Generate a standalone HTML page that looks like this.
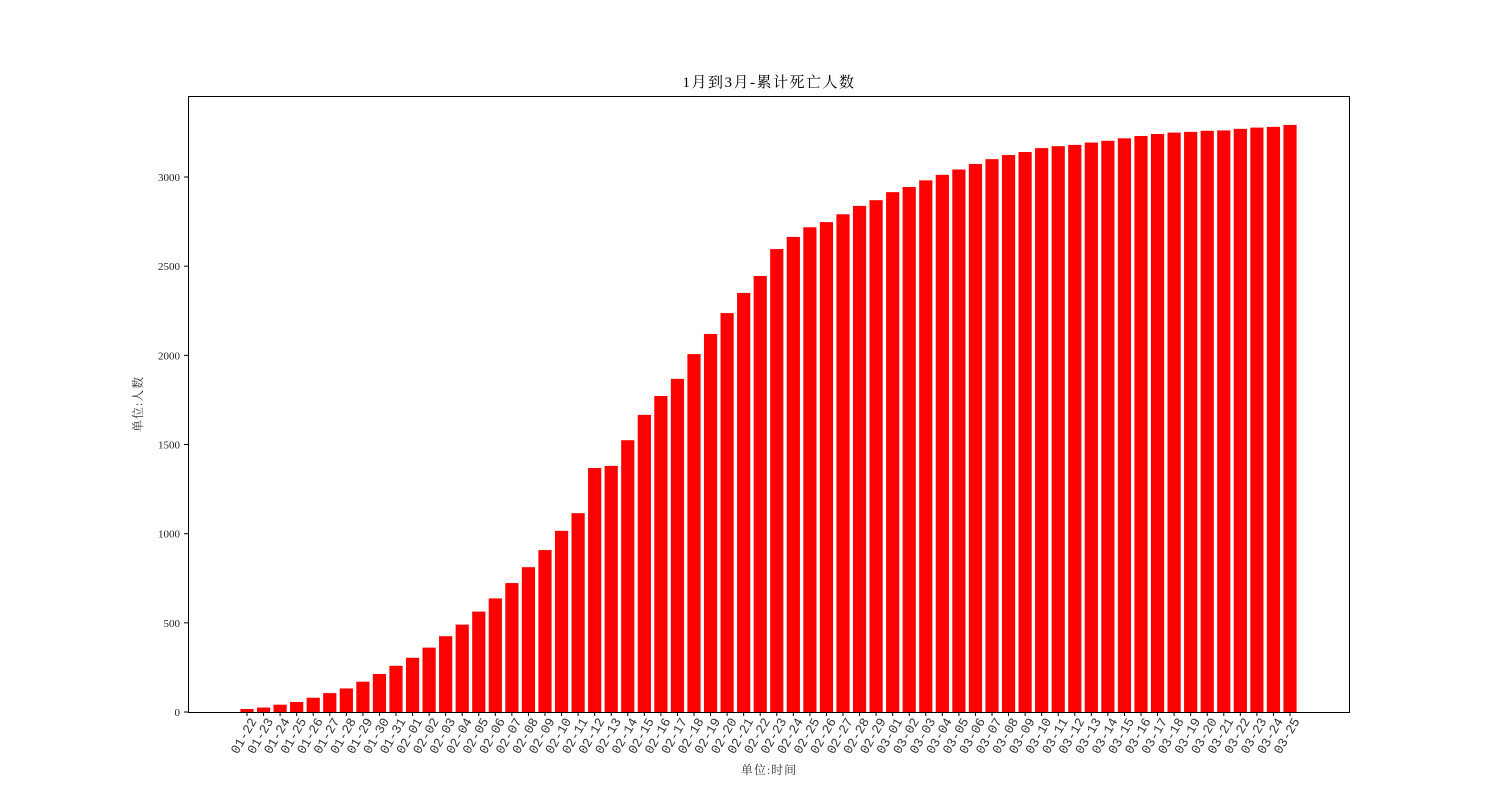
<!DOCTYPE html>
<html><head><meta charset="utf-8"><style>
html,body{margin:0;padding:0;background:#fff;}
svg{display:block;font-family:"Liberation Serif","Noto Serif CJK SC",serif;}
.tk{font-family:"Liberation Mono","Noto Sans CJK SC",monospace;}
</style></head><body>
<svg id="chart" width="1500" height="800">
<text x="769" y="87" font-size="15" letter-spacing="1.5" text-anchor="middle">1月到3月-累计死亡人数</text>
<text x="769" y="774" font-size="12" letter-spacing="1" text-anchor="middle" fill="#333">单位:时间</text>
<text transform="translate(142,404) rotate(-90)" font-size="12" letter-spacing="1" text-anchor="middle" fill="#333">单位:人数</text>
<g id="bars"></g>
<g id="xt"></g>
<g id="yt"></g>
<rect x="188.5" y="96.5" width="1161" height="616" fill="none" stroke="#000" stroke-width="1"/>
</svg>
<script>
const categories=["01-22","01-23","01-24","01-25","01-26","01-27","01-28","01-29","01-30","01-31","02-01","02-02","02-03","02-04","02-05","02-06","02-07","02-08","02-09","02-10","02-11","02-12","02-13","02-14","02-15","02-16","02-17","02-18","02-19","02-20","02-21","02-22","02-23","02-24","02-25","02-26","02-27","02-28","02-29","03-01","03-02","03-03","03-04","03-05","03-06","03-07","03-08","03-09","03-10","03-11","03-12","03-13","03-14","03-15","03-16","03-17","03-18","03-19","03-20","03-21","03-22","03-23","03-24","03-25"];
const deaths=[17,25,41,56,80,106,132,170,213,259,304,361,425,490,563,637,723,812,908,1016,1115,1368,1380,1524,1666,1772,1868,2007,2120,2237,2350,2445,2596,2664,2718,2747,2791,2838,2870,2915,2944,2981,3012,3042,3073,3100,3123,3140,3162,3173,3180,3193,3203,3217,3230,3241,3249,3253,3259,3261,3270,3277,3281,3292];
const yTicks=[0,500,1000,1500,2000,2500,3000];
const NS="http://www.w3.org/2000/svg";
const y=v=>712-v*535/3000;
const x=i=>247+i*(1290-247)/(categories.length-1);
const bw=13.2;
const bars=document.getElementById('bars'),xt=document.getElementById('xt'),yt=document.getElementById('yt');
function mk(t,a,p){const e=document.createElementNS(NS,t);for(const k in a)e.setAttribute(k,a[k]);p.appendChild(e);return e;}
deaths.forEach((v,i)=>{
  const r=mk('rect',{x:x(i)-bw/2,y:y(v),width:bw,height:712-y(v),fill:'#ff0000'},bars);
  
  
});
categories.forEach((c,i)=>{
  const l=mk('line',{x1:x(i),x2:x(i),y1:712,y2:716,stroke:'#000'},xt);
  
  
  const t=mk('text',{class:'tk',transform:`translate(${x(i)+10},${721}) rotate(-60)`,'font-size':'13','text-anchor':'end',fill:'#333'},xt);
  t.textContent=c;
  
  
});
yTicks.forEach(v=>{
  const l=mk('line',{x1:184,x2:188,y1:y(v),y2:y(v),stroke:'#000'},yt);
  
  
  const t=mk('text',{x:180,y:y(v)+4,'font-size':'11','text-anchor':'end',fill:'#222'},yt);
  t.textContent=v;
  
  
});
</script>
</body></html>
